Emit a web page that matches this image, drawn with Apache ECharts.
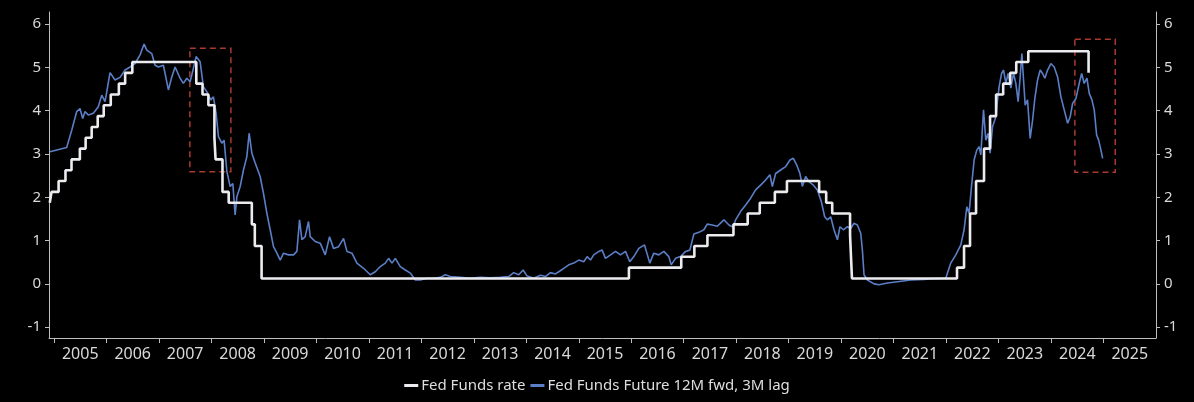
<!DOCTYPE html>
<html>
<head>
<meta charset="utf-8">
<script src="https://cdn.jsdelivr.net/npm/echarts@6/dist/echarts.min.js"></script>
<style>
html,body{margin:0;padding:0;background:#000;}
#c{width:1194px;height:402px;}
</style>
</head>
<body>
<div id="c"></div>
<script>
// Fed Funds rate (midpoint), step changes: [decimal year, value]
var fedFundsRate = [
[2004.92,1.875],[2004.953,2.125],[2005.088,2.375],[2005.219,2.625],[2005.334,2.875],[2005.493,3.125],
[2005.603,3.375],[2005.718,3.625],[2005.833,3.875],[2005.948,4.125],[2006.082,4.375],[2006.236,4.625],
[2006.356,4.875],[2006.493,5.125],[2007.712,4.625],[2007.830,4.375],[2007.942,4.125],[2008.057,3.375],
[2008.079,2.875],[2008.211,2.125],[2008.329,1.875],[2008.770,1.375],[2008.827,0.875],[2008.956,0.125],
[2015.956,0.375],[2016.953,0.625],[2017.203,0.875],[2017.452,1.125],[2017.948,1.375],[2018.219,1.625],
[2018.449,1.875],[2018.737,2.125],[2018.967,2.375],[2019.581,2.125],[2019.715,1.875],[2019.830,1.625],
[2020.170,1.125],[2020.206,0.125],[2022.208,0.375],[2022.342,0.875],[2022.456,1.625],[2022.571,2.375],
[2022.723,3.125],[2022.838,3.875],[2022.953,4.375],[2023.088,4.625],[2023.222,4.875],[2023.337,5.125],
[2023.567,5.375],[2024.715,4.875],[2024.725,4.875]
];
// Fed Funds Future 12M fwd, 3M lag: [decimal year, value]
var fedFundsFuture = [
[2004.924,3.05],[2005.242,3.15],[2005.338,3.55],[2005.433,3.98],[2005.496,4.05],[2005.547,3.82],[2005.591,3.98],
[2005.654,3.90],[2005.750,3.94],[2005.845,4.09],[2005.910,4.36],[2005.973,4.21],[2006.068,4.88],[2006.163,4.71],
[2006.259,4.77],[2006.354,4.94],[2006.450,5.01],[2006.545,5.09],[2006.640,5.29],[2006.717,5.54],[2006.768,5.40],
[2006.863,5.32],[2006.926,5.05],[2006.989,5.01],[2007.085,5.05],[2007.180,4.48],[2007.245,4.78],[2007.308,5.01],
[2007.403,4.75],[2007.466,4.63],[2007.531,4.75],[2007.594,4.67],[2007.657,4.98],[2007.708,5.25],[2007.785,5.13],
[2007.848,4.55],[2007.912,4.44],[2007.989,4.25],[2008.038,4.32],[2008.090,3.94],[2008.134,3.40],[2008.199,3.25],
[2008.242,3.32],[2008.294,2.60],[2008.357,2.25],[2008.408,2.32],[2008.452,1.59],[2008.485,2.01],[2008.548,2.25],
[2008.611,2.63],[2008.675,2.94],[2008.719,3.48],[2008.771,3.02],[2008.834,2.79],[2008.929,2.48],[2008.992,2.09],
[2009.057,1.63],[2009.120,1.25],[2009.183,0.86],[2009.248,0.71],[2009.311,0.55],[2009.374,0.71],[2009.469,0.67],
[2009.564,0.67],[2009.629,0.75],[2009.679,1.48],[2009.724,1.02],[2009.787,1.09],[2009.850,1.44],[2009.883,1.09],
[2009.978,0.98],[2010.073,0.94],[2010.169,0.67],[2010.251,1.09],[2010.327,0.82],[2010.423,0.86],[2010.518,1.05],
[2010.583,0.75],[2010.678,0.71],[2010.773,0.48],[2010.899,0.36],[2011.027,0.21],[2011.122,0.28],[2011.218,0.40],
[2011.313,0.48],[2011.376,0.59],[2011.441,0.48],[2011.504,0.59],[2011.599,0.40],[2011.695,0.32],[2011.790,0.25],
[2011.885,0.09],[2011.981,0.09],[2012.108,0.13],[2012.234,0.13],[2012.362,0.15],[2012.457,0.21],[2012.553,0.17],
[2012.744,0.15],[2012.934,0.13],[2013.125,0.15],[2013.316,0.14],[2013.507,0.15],[2013.665,0.17],[2013.760,0.26],
[2013.856,0.21],[2013.940,0.32],[2014.016,0.18],[2014.142,0.13],[2014.270,0.20],[2014.365,0.17],[2014.460,0.26],
[2014.556,0.23],[2014.619,0.28],[2014.714,0.36],[2014.810,0.44],[2014.905,0.48],[2015.000,0.55],[2015.096,0.51],
[2015.160,0.63],[2015.223,0.55],[2015.286,0.67],[2015.382,0.75],[2015.446,0.78],[2015.509,0.59],[2015.605,0.67],
[2015.700,0.75],[2015.795,0.67],[2015.891,0.75],[2015.973,0.51],[2016.049,0.63],[2016.144,0.82],[2016.253,0.90],
[2016.354,0.48],[2016.430,0.71],[2016.526,0.67],[2016.621,0.75],[2016.716,0.63],[2016.762,0.44],[2016.844,0.59],
[2016.940,0.63],[2017.035,0.75],[2017.117,0.78],[2017.193,1.15],[2017.289,1.19],[2017.384,1.25],[2017.449,1.38],
[2017.544,1.36],[2017.640,1.33],[2017.766,1.48],[2017.861,1.36],[2017.945,1.31],[2017.989,1.48],[2018.084,1.67],
[2018.180,1.82],[2018.275,1.98],[2018.370,2.17],[2018.466,2.28],[2018.561,2.40],[2018.643,2.52],[2018.689,2.25],
[2018.752,2.55],[2018.847,2.63],[2018.943,2.71],[2019.025,2.86],[2019.089,2.90],[2019.152,2.75],[2019.215,2.55],
[2019.261,2.25],[2019.324,2.48],[2019.387,2.36],[2019.471,2.28],[2019.547,2.17],[2019.623,1.90],[2019.686,1.55],
[2019.738,1.48],[2019.801,1.55],[2019.864,1.25],[2019.929,1.02],[2019.978,1.32],[2020.043,1.25],[2020.119,1.32],
[2020.182,1.28],[2020.245,1.40],[2020.310,1.36],[2020.373,1.17],[2020.405,0.78],[2020.436,0.21],[2020.500,0.09],
[2020.627,0.00],[2020.722,-0.02],[2020.882,0.02],[2021.073,0.05],[2021.327,0.09],[2021.580,0.10],[2021.708,0.12],
[2021.994,0.13],[2022.089,0.48],[2022.185,0.67],[2022.280,0.90],[2022.343,1.25],[2022.395,1.78],[2022.438,1.63],
[2022.484,2.25],[2022.534,2.86],[2022.585,3.09],[2022.629,3.17],[2022.662,2.98],[2022.713,4.02],[2022.757,3.32],
[2022.801,3.48],[2022.839,3.02],[2022.885,3.63],[2022.948,3.86],[2022.980,4.25],[2023.011,4.55],[2023.057,4.86],
[2023.095,4.94],[2023.139,4.63],[2023.182,4.86],[2023.234,4.52],[2023.285,4.86],[2023.329,4.63],[2023.373,4.21],
[2023.411,4.78],[2023.444,5.32],[2023.476,4.71],[2023.507,4.13],[2023.552,4.25],[2023.602,3.36],[2023.648,3.78],
[2023.691,4.28],[2023.743,4.71],[2023.793,4.94],[2023.839,4.86],[2023.882,4.75],[2023.934,4.94],[2023.997,5.09],
[2024.060,5.01],[2024.125,4.78],[2024.188,4.32],[2024.251,4.02],[2024.316,3.71],[2024.365,3.86],[2024.411,4.17],
[2024.474,4.28],[2024.537,4.63],[2024.583,4.86],[2024.632,4.63],[2024.684,4.75],[2024.728,4.40],[2024.779,4.25],
[2024.823,4.02],[2024.869,3.44],[2024.907,3.32],[2024.951,3.09],[2024.983,2.90]
];
var yearTicks = [2005,2006,2007,2008,2009,2010,2011,2012,2013,2014,2015,2016,2017,2018,2019,2020,2021,2022,2023,2024,2025];
var yTicks = [-1,0,1,2,3,4,5,6];
// Highlight boxes: [x from, x to, y low, y high]
var boxes = [[2007.589,2008.371,2.59,5.44],[2024.454,2025.223,2.58,5.65]];

var yearLabelPos = yearTicks.map(function(y){return y+0.5;});
var chart = echarts.init(document.getElementById('c'));
var axisColor = '#bdbdbd';
var labelColor = '#d9d9d9';
var font = 'Noto Sans';
function yAx(pos){
  return {
    type:'value', position:pos, min:-1.25, max:6.28,
    axisLine:{show:true, lineStyle:{color:axisColor, width:1}},
    axisTick:{show:true, length:4, lineStyle:{color:axisColor}, customValues:yTicks},
    axisLabel:{color:labelColor, fontSize:15, fontFamily:font, margin:8, customValues:yTicks},
    splitLine:{show:false}
  };
}
chart.setOption({
  backgroundColor:'#000',
  animation:false,
  grid:{left:49, right:38, top:12, bottom:64, containLabel:false},
  legend:{
    bottom:4, left:'center', itemWidth:14, itemHeight:3, itemGap:5,
    textStyle:{color:'#dedede', fontSize:15, fontFamily:font, padding:[0,0,0,-2]},
    data:[{name:'Fed Funds rate', icon:'rect'},{name:'Fed Funds Future 12M fwd, 3M lag', icon:'rect'}]
  },
  xAxis:{
    type:'value', min:2004.905, max:2026,
    axisLine:{show:true, onZero:false, lineStyle:{color:axisColor}},
    axisTick:{show:true, length:5, lineStyle:{color:axisColor}, customValues:yearTicks},
    axisLabel:{color:labelColor, fontSize:16, fontFamily:font, margin:8, customValues:yearLabelPos,
      formatter:function(v){return String(Math.floor(v));}},
    splitLine:{show:false}
  },
  yAxis:[yAx('left'), yAx('right')],
  series:[
    {
      name:'Fed Funds Future 12M fwd, 3M lag', type:'line', data:fedFundsFuture,
      showSymbol:false, symbol:'none', z:2,
      lineStyle:{color:'#5b7fc6', width:1.6}, itemStyle:{color:'#5b7fc6'},
      markArea:{
        silent:true,
        itemStyle:{color:'rgba(0,0,0,0)', borderColor:'#a83a30', borderWidth:1.5, borderType:[6,4]},
        data:boxes.map(function(b){return [{xAxis:b[0], yAxis:b[3]},{xAxis:b[1], yAxis:b[2]}];})
      }
    },
    {
      name:'Fed Funds rate', type:'line', step:'end', data:fedFundsRate,
      showSymbol:false, symbol:'none', z:3,
      lineStyle:{color:'#ececf0', width:2.6}, itemStyle:{color:'#ececf0'}
    }
  ]
});
</script>
</body>
</html>
